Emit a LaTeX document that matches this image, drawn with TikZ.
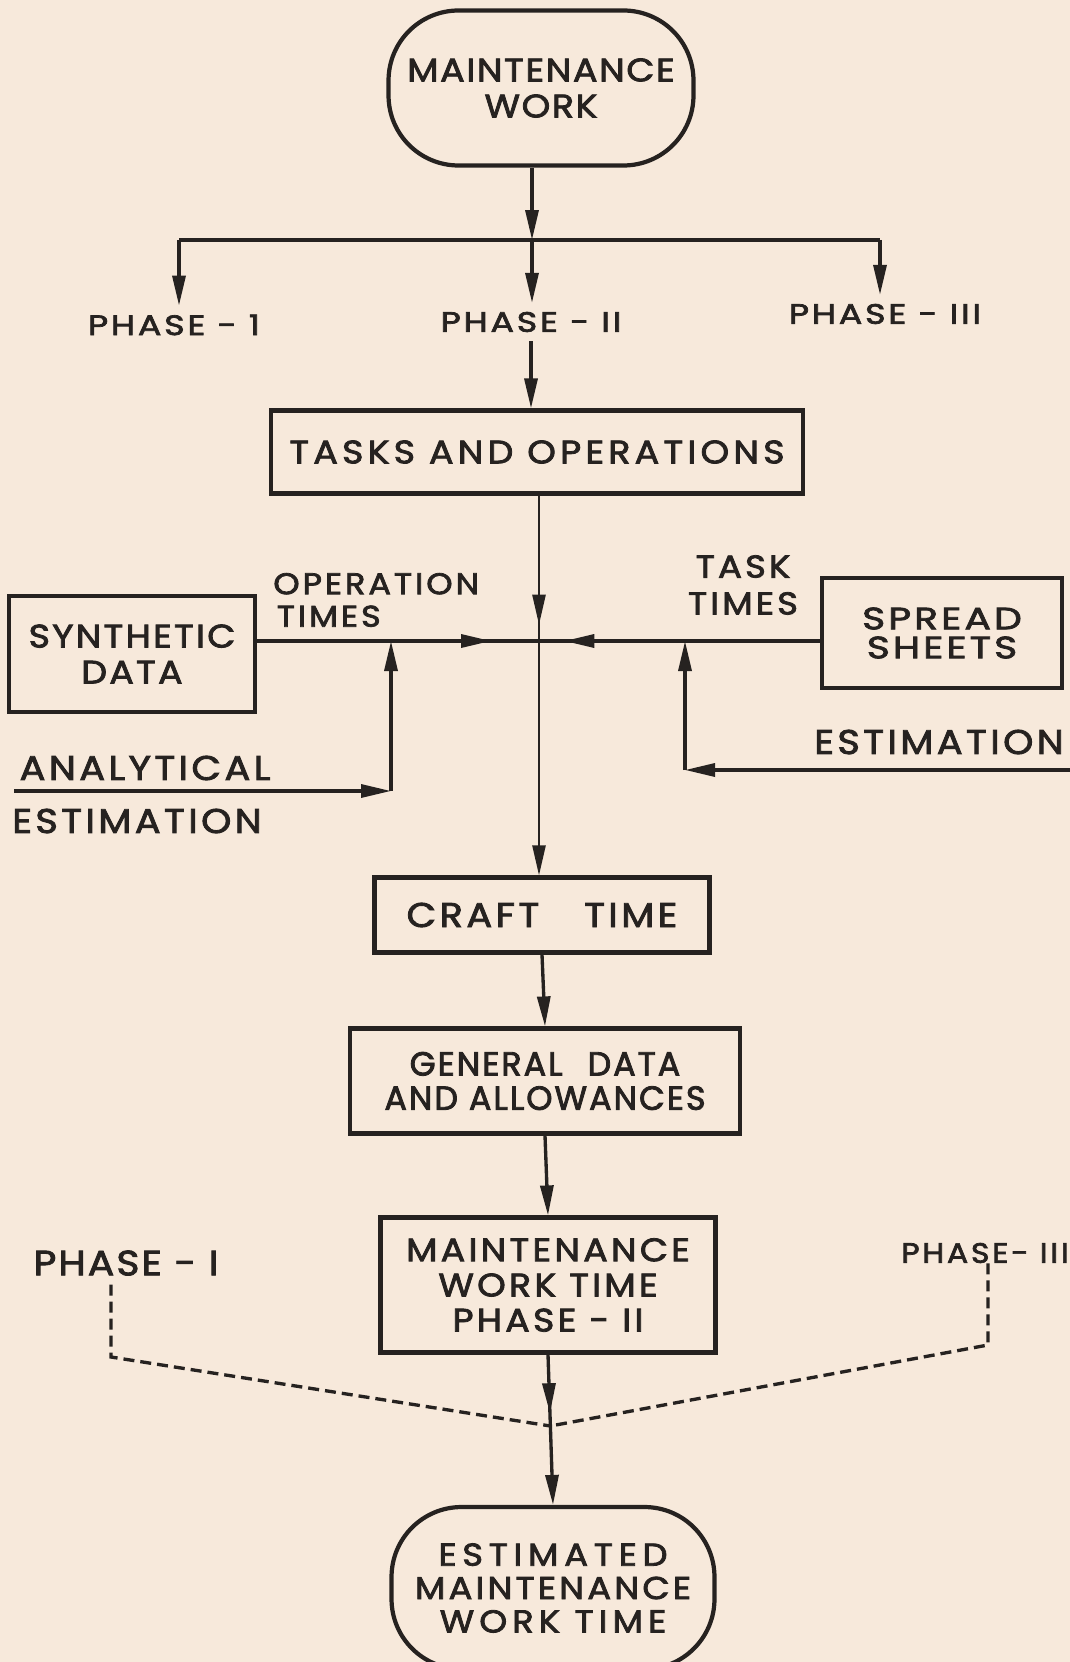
\documentclass[tikz,border=0pt]{standalone}
\usepackage{fontspec}
\setmainfont{Poppins}[LetterSpace = 10, FakeStretch = 1.12, FakeBold = 2.5]
\usetikzlibrary{arrows.meta, decorations.markings}
\definecolor{paper}{RGB}{247,233,219}
\definecolor{ink}{RGB}{38,34,32}

\begin{document}
\begin{tikzpicture}[x = 0.02cm, y = -0.02cm,
        >= {Triangle[length = 0.6cm, width = 0.26cm]},
        box/.style = {draw = ink, line width = 2.4pt, inner sep = 0pt, align = center, text = ink,
            font = \fontsize{18.5}{20.5}\selectfont},
        pill/.style = {box, rounded corners = 1.4cm},
        lbl/.style = {text = ink, align = center, inner sep = 5pt, font = \fontsize{18.5}{20.5}\selectfont},
        phaselbl/.style = {lbl, font = \fontsize{16}{18}\selectfont\addfontfeatures{FakeStretch = 1.24}},
        conn/.style = {draw = ink, line width = 1.9pt},
        spine/.style = {draw = ink, line width = 1.4pt},
        dashline/.style = {draw = ink, line width = 1.9pt, dash pattern = on 0.22cm off 0.12cm},
        midarrow/.style = {decoration = {markings, mark = at position #1 with {\arrow{>}}},
            postaction = decorate}]
    \useasboundingbox (0, 0) rectangle (1070, 1662);
    \fill[paper] (0, 0) rectangle (1070, 1662);

    \node[pill, minimum width = 6.1cm, minimum height = 3.1cm,
        font = \fontsize{18.5}{20.5}\selectfont\addfontfeatures{LetterSpace = 5}] (mwork) at (541, 88) {MAINTENANCE\\WORK};
    \node[phaselbl] (phone) at (174, 325) {PHASE - 1};
    \node[phaselbl] (phtwo) at (531, 322) {PHASE - II};
    \node[phaselbl] (phthree) at (885, 314) {PHASE - III};
    \node[box, minimum width = 10.64cm, minimum height = 1.66cm,
        font = \fontsize{18.5}{20.5}\selectfont\addfontfeatures{LetterSpace = 13}] (tasks) at (537, 452) {TASKS AND OPERATIONS};
    \node[box, minimum width = 4.92cm, minimum height = 2.32cm,
        font = \fontsize{18.5}{20.5}\selectfont\addfontfeatures{LetterSpace = 7}] (synth) at (132, 654) {SYNTHETIC\\DATA};
    \node[box, minimum width = 4.8cm, minimum height = 2.2cm,
        font = \fontsize{17.5}{16.5}\selectfont\addfontfeatures{FakeStretch = 1.28}] (spread) at (942, 633) {SPREAD\\SHEETS};
    \node[lbl, align = left, anchor = west, inner sep = 0pt, font = \fontsize{17}{18.5}\selectfont] (optimes) at (273, 600) {OPERATION\\\hspace{2pt}TIMES};
    \node[lbl, font = \fontsize{18}{21}\selectfont] (tasktimes) at (743, 585) {TASK\\TIMES};
    \node[lbl, font = \fontsize{19.5}{21}\selectfont] (anlab) at (145, 768) {ANALYTICAL};
    \node[lbl, font = \fontsize{19.5}{21}\selectfont] (estlab) at (137, 821) {ESTIMATION};
    \node[lbl, font = \fontsize{19.5}{21}\selectfont] (estr) at (939, 742) {ESTIMATION};
    \node[box, minimum width = 6.7cm, minimum height = 1.5cm, font = \fontsize{19.5}{21}\selectfont] (craft) at (542, 915) {CRAFT\hspace{0.9cm}TIME};
    \node[box, minimum width = 7.8cm, minimum height = 2.1cm,
        font = \fontsize{19}{19.5}\selectfont\addfontfeatures{FakeStretch = 1.0, LetterSpace = 6}] (general) at (545, 1081) {GENERAL\hspace{0.5cm}DATA\\AND ALLOWANCES};
    \node[box, minimum width = 6.7cm, minimum height = 2.7cm, font = \fontsize{18.5}{20}\selectfont] (mwtime) at (548, 1285) {MAINTENANCE\\WORK TIME\\PHASE - II};
    \node[lbl, font = \fontsize{20}{22}\selectfont\addfontfeatures{LetterSpace = 6}] (phI) at (126, 1263) {PHASE - I};
    \node[lbl, anchor = west, inner sep = 0pt, font = \fontsize{16}{18}\selectfont] (phIII) at (901, 1253) {PHASE- III};
    \node[pill, minimum width = 6.46cm, minimum height = 3.24cm, font = \fontsize{18}{19}\selectfont] (estim) at (553, 1588)
        {{\addfontfeatures{LetterSpace = 18}ESTIMATED}\\MAINTENANCE\\{\addfontfeatures{LetterSpace = 16}WORK TIME}};

    \coordinate (branch) at (532, 240);
    \coordinate (bl) at (179, 240);
    \coordinate (br) at (880, 240);
    \coordinate (junc) at (539, 641);
    \coordinate (anc) at (391, 791);
    \coordinate (anstart) at (14, 791);
    \coordinate (esc) at (685, 770);
    \coordinate (esstart) at (1075, 770);
    \coordinate (dlone) at (111, 1357);
    \coordinate (dlthree) at (988, 1345);

    \draw[conn, ->] (branch |- mwork.south) -- (branch);
    \draw[conn] (bl) -- (br);
    \draw[conn, ->] (bl) -- (bl |- phone.north);
    \draw[conn, ->] (branch) -- (branch |- phtwo.north);
    \draw[conn, ->] (br) -- (br |- phthree.north);
    \draw[conn, ->] (phtwo.south) -- (phtwo.south |- tasks.north);

    \draw[spine, ->, midarrow = 0.34] (junc |- tasks.south) -- (junc |- craft.north);
    \draw[conn, midarrow = 0.83] (synth.east |- junc) -- (junc);
    \draw[conn, midarrow = 0.91] (spread.west |- junc) -- (junc);
    \draw[conn, ->] (anstart) -- (anc);
    \draw[conn, ->] (anc) -- (anc |- junc);
    \draw[conn, ->] (esstart) -- (esc);
    \draw[conn, ->] (esc) -- (esc |- junc);

    \draw[conn, ->] (craft.south) -- (general.north);
    \draw[conn, ->] (general.south) -- (mwtime.north);
    \draw[conn, ->, midarrow = 0.39] (mwtime.south) -- coordinate[pos = 0.475] (merge) (estim.north);
    \draw[dashline] (phI.south -| dlone) -- (dlone) -- (merge);
    \draw[dashline] (dlthree |- phIII.south) -- (dlthree) -- (merge);
\end{tikzpicture}
\end{document}
